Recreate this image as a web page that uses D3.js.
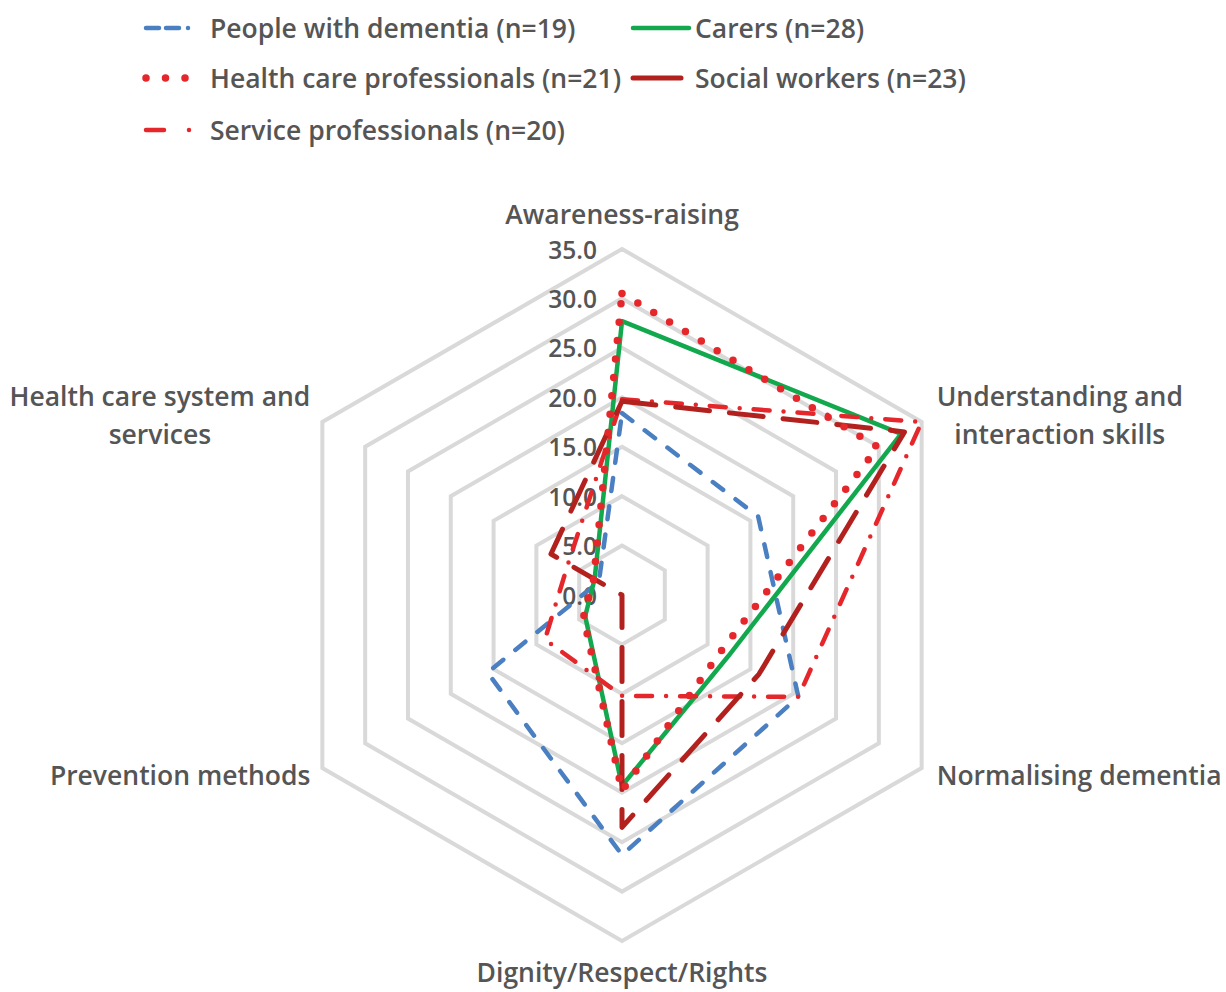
<!DOCTYPE html>
<html><head><meta charset="utf-8">
<script src="https://cdn.jsdelivr.net/npm/d3@7/dist/d3.min.js"></script>
<style>
body{margin:0;background:#fff}
text{font-family:"Open Sans",sans-serif;font-weight:600;fill:#555555}
</style>
</head><body>
<svg id="chart" width="1226" height="992"></svg>
<script>
// ---- data ----
const categories = ["Awareness-raising", "Understanding and interaction skills", "Normalising dementia",
  "Dignity/Respect/Rights", "Prevention methods", "Health care system and services"];
const categoryLines = [["Awareness-raising"], ["Understanding and", "interaction skills"], ["Normalising dementia"],
  ["Dignity/Respect/Rights"], ["Prevention methods"], ["Health care system and", "services"]];
const seriesNames = ["People with dementia (n=19)", "Carers (n=28)", "Health care professionals (n=21)",
  "Social workers (n=23)", "Service professionals (n=20)"];
const peopleWithDementia = [18.4, 15.9, 20.6, 26.3, 15.7, 2.7];
const carers = [27.7, 32.6, 12.4, 19.3, 4.3, 3.2];
const healthCareProfessionals = [30.5, 29.9, 11.5, 19.8, 4.5, 3.3];
const socialWorkers = [19.6, 33.0, 16.0, 23.5, 0.0, 8.3];
const serviceProfessionals = [19.8, 35.0, 20.6, 10.2, 9.0, 6.3];
const tickValues = [0, 5, 10, 15, 20, 25, 30, 35];
const tickLabels = ["0.0", "5.0", "10.0", "15.0", "20.0", "25.0", "30.0", "35.0"];

// ---- styles ----
const seriesValues = [peopleWithDementia, carers, healthCareProfessionals, socialWorkers, serviceProfessionals];
const styles = [
  {color: "#4a7fc1", width: 4.5, dash: "13,15.5", legendDash: "13,7,13,9,0,40"},
  {color: "#12a84e", width: 4.5, dash: null, legendDash: null},
  {color: "#e5262b", width: 7.5, dash: "0,18.5", legendDash: "0,19.5"},
  {color: "#b3211e", width: 5, dash: "34,20", legendDash: null},
  {color: "#e5262b", width: 4.5, dash: "16,14,0,14", legendDash: "18,25,0,100"}
];
const legendLen = [52, 56, 40, 48, 48];
const drawOrder = [0, 1, 4, 3, 2];

const svg = d3.select("#chart");
const cx = 622, cy = 595, R = 346;
const r = d3.scaleLinear().domain([0, 35]).range([0, R]);
const angle = d3.scaleLinear().domain([0, categories.length]).range([0, 2 * Math.PI]);

// grid
const grid = svg.append("g");
tickValues.filter(v => v > 0).forEach(v => {
  grid.append("path")
    .attr("transform", `translate(${cx},${cy})`)
    .attr("d", d3.lineRadial().angle((d, i) => angle(i)).radius(() => r(v)).curve(d3.curveLinearClosed)(categories))
    .attr("fill", "none").attr("stroke", "#d9d9d9").attr("stroke-width", 4);
});

// tick labels
svg.append("g").selectAll("text").data(tickValues).join("text")
  .attr("x", cx - 25).attr("y", v => cy - r(v))
  .attr("text-anchor", "end").attr("dominant-baseline", "central")
  .style("font-size", "24.5px")
  .text((v, i) => tickLabels[i]);

// series
const line = d3.lineRadial().angle((d, i) => angle(i)).radius(d => r(d)).curve(d3.curveLinearClosed);
const sg = svg.append("g").attr("transform", `translate(${cx},${cy})`);
drawOrder.forEach(k => {
  const s = styles[k];
  sg.append("path").attr("d", line(seriesValues[k]))
    .attr("fill", "none").attr("stroke", s.color).attr("stroke-width", s.width)
    .attr("stroke-dasharray", s.dash).attr("stroke-linecap", "round").attr("stroke-linejoin", "round");
});

// category labels
const lh = 38;
const lab = svg.append("g").style("font-size", "26.5px");
categoryLines.forEach((lines, i) => {
  const a = angle(i);
  const vx = cx + R * Math.sin(a), vy = cy - R * Math.cos(a);
  const g = lab.append("g");
  const texts = lines.map((t, j) => g.append("text").attr("text-anchor", "middle").attr("dominant-baseline", "central").text(t));
  const w = d3.max(texts, t => t.node().getComputedTextLength());
  let bx, by;
  const n = lines.length;
  if (i === 0) { bx = vx; by = vy - 35; }
  else if (i === 3) { bx = vx; by = vy + 31; }
  else if (i === 1) { bx = vx + 15 + w / 2; by = vy - 7; }
  else if (i === 2) { bx = vx + 15 + w / 2; by = vy + 7; }
  else if (i === 4) { bx = vx - 12 - w / 2; by = vy + 7; }
  else { bx = vx - 12 - w / 2; by = vy - 7; }
  texts.forEach((t, j) => t.attr("x", bx).attr("y", by + (j - (n - 1) / 2) * lh));
});

// legend
const legendPos = [[146, 28], [633, 28], [146, 78], [633, 78], [146, 130]];
const lg = svg.append("g").style("font-size", "26.5px");
seriesNames.forEach((name, k) => {
  const [x, y] = legendPos[k];
  const s = styles[k];
  lg.append("line").attr("x1", x).attr("x2", x + legendLen[k]).attr("y1", y).attr("y2", y)
    .attr("stroke", s.color).attr("stroke-width", s.width)
    .attr("stroke-dasharray", s.legendDash).attr("stroke-linecap", "round");
  lg.append("text").attr("x", k % 2 === 0 ? 210 : 695).attr("y", y).attr("dominant-baseline", "central").text(name);
});
</script>
</body></html>
